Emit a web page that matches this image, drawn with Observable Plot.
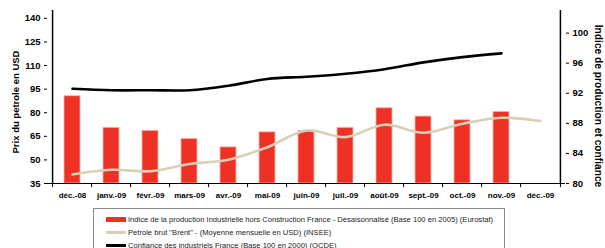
<!DOCTYPE html>
<html>
<head>
<meta charset="utf-8">
<script src="https://cdn.jsdelivr.net/npm/d3@7"></script>
<script src="https://cdn.jsdelivr.net/npm/@observablehq/plot@0.6"></script>
<style>
  html, body { margin: 0; padding: 0; background: #fff; }
  #wrap { position: relative; width: 605px; height: 248px; overflow: hidden; font-family: "Liberation Sans", Arial, sans-serif; }
  #chart { position: absolute; left: 0; top: 0; }
  .ytitle { position: absolute; font-weight: bold; font-size: 9.5px; white-space: nowrap; color: #000; }
  #legend { position: absolute; left: 93px; top: 208px; width: 412px; height: 60px; border: 1px solid #8a8a8a; box-sizing: border-box; font-size: 7.6px; color: #222; }
  .row { position: absolute; left: 12px; height: 10px; display: flex; align-items: center; white-space: nowrap; }
  .sw { width: 20px; margin-right: 2px; }
</style>
</head>
<body>
<div id="wrap">
  <div id="chart"></div>
  <div class="ytitle" id="tl">Prix du petrole en USD</div>
  <div class="ytitle" id="tr">Indice de production et confiance</div>
  <div id="legend"></div>
</div>
<script>
const months = ["déc.-08","janv.-09","févr.-09","mars-09","avr.-09","mai-09","juin-09","juil.-09","août-09","sept.-09","oct.-09","nov.-09","déc.-09"];
const production = [91.6, 87.4, 87.0, 85.9, 84.8, 86.8, 87.0, 87.4, 90.0, 88.9, 88.4, 89.5, null];
const brent = [40.7, 43.7, 42.8, 47.4, 50.1, 58.1, 68.7, 64.5, 72.4, 67.3, 73.0, 76.8, 74.7];
const confiance = [92.6, 92.4, 92.4, 92.4, 93.0, 93.9, 94.2, 94.6, 95.2, 96.1, 96.8, 97.3, null];
const leftTicks = [35, 50, 65, 80, 95, 110, 125, 140];
const rightTicks = [80, 84, 88, 92, 96, 100];
const leftDomain = [35, 145];
const rightDomain = [80, 103];
const legendLabels = [
  "Indice de la production Industrielle hors Construction France - Désaisonnalisé (Base 100 en 2005) (Eurostat)",
  "Petrole brut \"Brent\" - (Moyenne mensuelle en USD) (INSEE)",
  "Confiance des industriels France (Base 100 en 2000) (OCDE)"
];
const colors = ["#ee3124", "#d8cfb4", "#000000"];

// map left-axis (oil price) values onto the right-axis scale
const toRight = v => rightDomain[0] + (v - leftDomain[0]) * (rightDomain[1] - rightDomain[0]) / (leftDomain[1] - leftDomain[0]);
const toLeft = v => leftDomain[0] + (v - rightDomain[0]) * (leftDomain[1] - leftDomain[0]) / (rightDomain[1] - rightDomain[0]);

const data = months.map((m, i) => ({m, production: production[i], brent: brent[i], confiance: confiance[i]}));
const barsData = data.filter(d => d.production != null);
const confData = data.filter(d => d.confiance != null);

const W = 605, H = 205, mL = 47, mR = 40, mT = 10, mB = 22;
const step = (W - mL - mR) / months.length;

const chart = Plot.plot({
  width: W, height: H,
  marginLeft: mL, marginRight: mR, marginTop: mT, marginBottom: mB,
  style: {fontFamily: "Liberation Sans, Arial, sans-serif", fontWeight: "bold", fontSize: "9.5px", color: "#000", background: "#fff"},
  x: {type: "band", domain: months, paddingInner: 0.6, paddingOuter: 0.3},
  y: {domain: rightDomain},
  marks: [
    Plot.barY(barsData, {x: "m", y1: rightDomain[0], y2: "production", fill: colors[0], stroke: "#f6b1a6", strokeWidth: 0.8}),
    Plot.line(data, {x: "m", y: d => toRight(d.brent), stroke: colors[1], strokeWidth: 2.6, curve: "catmull-rom"}),
    Plot.line(confData, {x: "m", y: "confiance", stroke: colors[2], strokeWidth: 2.6, curve: "catmull-rom"}),
    // baseline and axis lines
    Plot.ruleY([rightDomain[0]], {stroke: "#000", strokeWidth: 1}),
    Plot.ruleX([months[0]], {dx: -step / 2, y1: rightDomain[0], y2: rightDomain[1], stroke: "#000", strokeWidth: 1.5}),
    Plot.ruleX([months[months.length - 1]], {dx: step / 2, y1: rightDomain[0], y2: rightDomain[1], stroke: "#000", strokeWidth: 1.5}),
    // category boundary tick marks
    Plot.ruleX(months, {dx: -step / 2, y1: rightDomain[0], y2: rightDomain[0] - 0.55, stroke: "#000"}),
    Plot.ruleX([months[months.length - 1]], {dx: step / 2, y1: rightDomain[0], y2: rightDomain[0] - 0.55, stroke: "#000"}),
    Plot.axisY({anchor: "left", ticks: leftTicks.map(toRight), tickFormat: d => String(Math.round(toLeft(d))), tickSize: 3, tickPadding: 4, label: null, fontSize: 9.5}),
    Plot.axisY({anchor: "right", ticks: rightTicks, tickSize: 3, tickPadding: 4, label: null, fontSize: 9.5}),
    Plot.axisX({tickSize: 0, tickPadding: 9, label: null, fontSize: 8})
  ]
});
document.getElementById("chart").appendChild(chart);

// axis titles
const tl = document.getElementById("tl");
tl.style.left = "15px"; tl.style.top = "102px";
tl.style.transform = "translate(-50%,-50%) rotate(-90deg)";
const tr = document.getElementById("tr");
tr.style.fontSize = "10.2px";
tr.style.left = "598px"; tr.style.top = "106px";
tr.style.transform = "translate(-50%,-50%) rotate(90deg)";

// legend
const legend = document.getElementById("legend");
const rowTops = [5, 18, 31];
legendLabels.forEach((lab, i) => {
  const row = document.createElement("div");
  row.className = "row";
  row.style.top = rowTops[i] + "px";
  const sw = document.createElement("div");
  sw.className = "sw";
  sw.style.height = i === 0 ? "5px" : "3px";
  sw.style.background = colors[i];
  row.appendChild(sw);
  const t = document.createElement("span");
  t.textContent = lab;
  row.appendChild(t);
  legend.appendChild(row);
});
</script>
</body>
</html>
